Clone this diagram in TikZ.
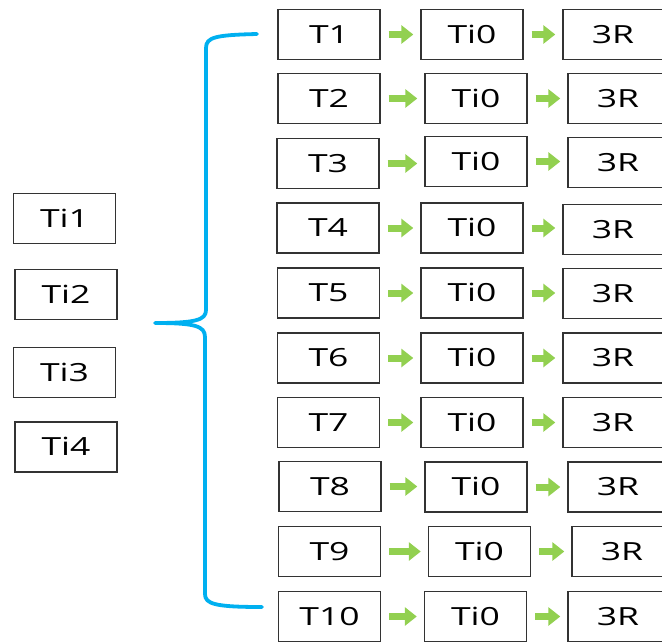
\documentclass[tikz,border=0pt]{standalone}
\usepackage{fontspec}
\setmainfont{Open Sans}[FakeStretch=1.42]
\usetikzlibrary{arrows.meta}
\definecolor{bracecol}{HTML}{00B0F0}
\definecolor{arrowcol}{HTML}{92D050}
\definecolor{edgecol}{HTML}{333333}
\tikzset{
  box/.style={draw=edgecol, line width=1.4pt, fill=white, minimum width=102pt,
    minimum height=50pt, inner sep=0pt, text height=17.8pt, text depth=0pt,
    font=\fontsize{25}{30}\selectfont},
  flow/.style={draw=arrowcol, line width=7pt,
    -{Triangle[length=12pt,width=18pt]}, shorten <=8pt, shorten >=7pt},
  bracket/.style={draw=bracecol, line width=3.8pt, line cap=round, line join=round}
}
\begin{document}
\begin{tikzpicture}[x=1pt, y=-1pt]
\clip (0,0) rectangle (662,641);
\fill[white] (0,0) rectangle (662,641);

% inputs on the left
\node[box] (ti1) at (64.5,218.5) {Ti1};
\node[box] (ti2) at (66,294.5) {Ti2};
\node[box] (ti3) at (64.5,372.5) {Ti3};
\node[box] (ti4) at (66,447) {Ti4};

% ten chains: T -> Ti0 -> 3R
\foreach \n/\tx/\ty/\mx/\my/\rx/\ry in {
  1/329/34.5/472/34.5/613/34.5,
  2/329/98.5/476/98.5/618/98.5,
  3/328/163.5/476/161.5/618/162.5,
  4/328/228/472/228/613/229.5,
  5/328.5/293/472/293/613/293.5,
  6/328.5/358/472/358/613/358,
  7/328.5/422.5/472/422.5/613/422.5,
  8/330/486.5/476/487/618/487,
  9/329.5/551.5/479.5/551.5/622/551.5,
  10/329.5/616.5/475.5/616.5/618/616.5}{
  \node[box] (t\n) at (\tx,\ty) {T\n};
  \node[box] (m\n) at (\mx,\my) {Ti0};
  \node[box, minimum width=100pt] (r\n) at (\rx,\ry) {3R};
  \draw[flow] (t\n.east) -- (t\n.east -| m\n.west);
  \draw[flow] (m\n.east) -- (m\n.east -| r\n.west);
}

% brace gathering the chains
\coordinate (btop) at (257,34);
\coordinate (btip) at (155,323);
\coordinate (bbot) at (262,607);
\draw[bracket] (btop) .. controls (216,35) and (206,37) .. (206,48)
  -- (206,310) .. controls (206,320) and (196,323) .. (btip)
  .. controls (195,323) and (205,326) .. (205,337)
  -- (205,594) .. controls (205,604) and (215,607) .. (bbot);
\end{tikzpicture}
\end{document}
